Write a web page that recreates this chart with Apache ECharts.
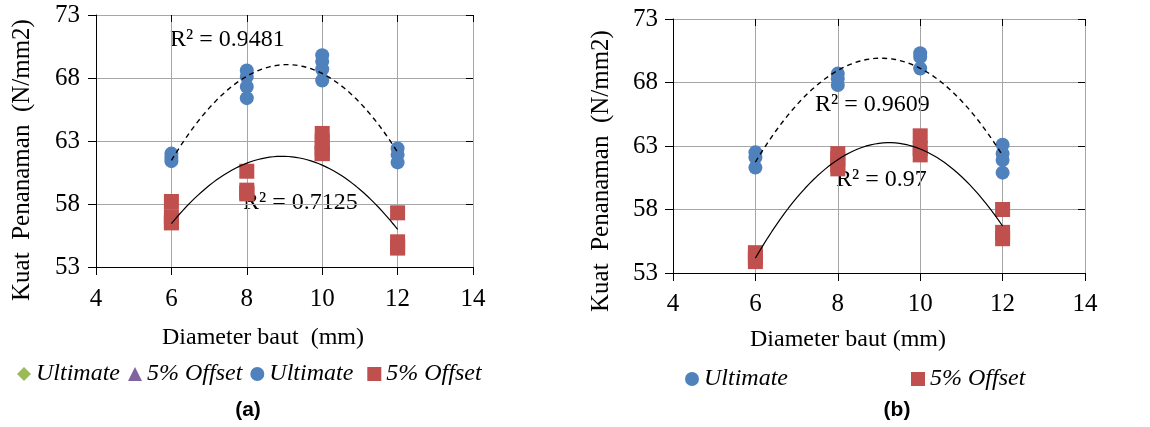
<!DOCTYPE html>
<html><head><meta charset="utf-8">
<script src="https://cdn.jsdelivr.net/npm/echarts@6/dist/echarts.min.js"></script>
<style>html,body{margin:0;padding:0;background:#fff}#c{width:1150px;height:427px}</style>
</head><body><div id="c"></div>
<script>
// ---- data ----
const xMin = 4, xMax = 14, xStep = 2;
const yMin = 53, yMax = 73, yStep = 5;

// Panel (a)
const leftUltimate = [
  [6, 62.0], [6, 61.7], [6, 61.4],
  [8, 68.6], [8, 68.1], [8, 67.3], [8, 66.4],
  [10, 69.8], [10, 69.3], [10, 68.7], [10, 67.8],
  [12, 62.4], [12, 61.9], [12, 61.3]
];
const leftOffset = [
  [6, 58.2], [6, 57.0], [6, 56.6], [6, 56.5],
  [8, 60.6], [8, 59.1], [8, 58.9], [8, 58.8],
  [10, 63.6], [10, 63.0], [10, 62.4], [10, 62.0], [10, 62.0],
  [12, 57.3], [12, 55.0], [12, 54.6], [12, 54.5]
];
// Panel (b)
const rightUltimate = [
  [6, 62.5], [6, 62.1], [6, 61.3],
  [8, 68.7], [8, 68.3], [8, 67.8],
  [10, 70.3], [10, 70.0], [10, 69.1],
  [12, 63.1], [12, 62.4], [12, 61.9], [12, 60.9]
];
const rightOffset = [
  [6, 54.6], [6, 54.2], [6, 53.9],
  [8, 62.4], [8, 62.0], [8, 61.5], [8, 61.2],
  [10, 63.8], [10, 62.8], [10, 62.3],
  [12, 58.0], [12, 56.2], [12, 55.7]
];
const r2Labels = ['R² = 0.9481', 'R² = 0.7125', 'R² = 0.9609', 'R² = 0.97'];

// ---- quadratic trendline (least squares, like the spreadsheet trendline) ----
function fit2(pts) {
  let S = [0,0,0,0,0], T = [0,0,0];
  pts.forEach(([x, y]) => {
    for (let k = 0; k < 5; k++) S[k] += Math.pow(x, k);
    for (let k = 0; k < 3; k++) T[k] += Math.pow(x, k) * y;
  });
  const A = [[S[0],S[1],S[2],T[0]],[S[1],S[2],S[3],T[1]],[S[2],S[3],S[4],T[2]]];
  for (let i = 0; i < 3; i++) {
    for (let j = i + 1; j < 3; j++) {
      const f = A[j][i] / A[i][i];
      for (let k = i; k < 4; k++) A[j][k] -= f * A[i][k];
    }
  }
  const c = [0,0,0];
  for (let i = 2; i >= 0; i--) {
    let s = A[i][3];
    for (let k = i + 1; k < 3; k++) s -= A[i][k] * c[k];
    c[i] = s / A[i][i];
  }
  return c;
}
function trend(pts) {
  const c = fit2(pts);
  const xs = pts.map(p => p[0]);
  const x0 = Math.min(...xs), x1 = Math.max(...xs);
  const out = [];
  for (let i = 0; i <= 60; i++) {
    const x = x0 + (x1 - x0) * i / 60;
    out.push([x, c[0] + c[1] * x + c[2] * x * x]);
  }
  return out;
}

const BLUE = '#4f81bd', RED = '#c0504d', GREEN = '#9bbb59', PURPLE = '#8064a2';
const SERIF = '"Liberation Serif", "Times New Roman", serif';

function xAxes(grid, margin) {
  return [
    { type: 'value', gridIndex: grid, min: xMin, max: xMax, interval: xStep,
      axisLine: { show: true, onZero: false, lineStyle: { color: '#000', width: 1 } },
      axisTick: { show: true, length: 8, lineStyle: { color: '#000' } },
      axisLabel: { fontFamily: SERIF, fontSize: 25, color: '#000', margin: margin },
      splitLine: { show: true, lineStyle: { color: '#a6a6a6', width: 1 } } },
    { type: 'value', gridIndex: grid, min: xMin, max: xMax, interval: xStep,
      axisLine: { show: false }, axisLabel: { show: false }, splitLine: { show: false },
      axisTick: { show: true, inside: true, length: 7, lineStyle: { color: '#000' } } }
  ];
}
function yAxes(grid, margin) {
  return [
    { type: 'value', gridIndex: grid, min: yMin, max: yMax, interval: yStep,
      axisLine: { show: true, onZero: false, lineStyle: { color: '#000', width: 1 } },
      axisTick: { show: true, length: 8, lineStyle: { color: '#000' } },
      axisLabel: { fontFamily: SERIF, fontSize: 25, color: '#000', margin: margin },
      splitLine: { show: true, lineStyle: { color: '#a6a6a6', width: 1 } } },
    { type: 'value', gridIndex: grid, min: yMin, max: yMax, interval: yStep,
      axisLine: { show: false }, axisLabel: { show: false }, splitLine: { show: false },
      axisTick: { show: true, inside: true, length: 7, lineStyle: { color: '#000' } } }
  ];
}
function scatter(name, data, xi, yi, symbol, color, size) {
  return { name, type: 'scatter', xAxisIndex: xi, yAxisIndex: yi, data,
    symbol, symbolSize: size, itemStyle: { color, opacity: 1 }, z: 3, silent: true };
}
function line(data, xi, yi, dashed) {
  return { type: 'line', xAxisIndex: xi, yAxisIndex: yi, data, showSymbol: false,
    symbol: 'none', smooth: false, z: 5, silent: true,
    lineStyle: { color: '#000', width: dashed ? 1.4 : 1.2, type: dashed ? [5, 4] : 'solid' } };
}
function txt(text, x, y, font, align, rot) {
  return { type: 'text', x, y, rotation: rot || 0, silent: true,
    style: { text, font, fill: '#000', textAlign: align || 'center', textVerticalAlign: 'middle' } };
}

const legendText = { fontFamily: SERIF, fontStyle: 'italic', fontSize: 24, color: '#000' };

const option = {
  backgroundColor: '#fff',
  animation: false,
  grid: [
    { left: 96, top: 15, width: 377, height: 252 },
    { left: 673, top: 19, width: 412, height: 254 }
  ],
  xAxis: [...xAxes(0, 20), ...xAxes(1, 19)],
  yAxis: [...yAxes(0, 16), ...yAxes(1, 15)],
  legend: [
    { left: 12, top: 357, itemWidth: 14, itemHeight: 14, itemGap: 8, textStyle: legendText,
      selectedMode: false,
      data: [{ name: 'Ultimate', icon: 'diamond' }, { name: '5% Offset', icon: 'triangle' },
             { name: 'Ultimate ', icon: 'circle' }, { name: '5% Offset ', icon: 'rect' }] },
    { left: 680, top: 362, itemWidth: 14, itemHeight: 14, itemGap: 111, textStyle: legendText,
      selectedMode: false,
      data: [{ name: 'Ultimate  ', icon: 'circle' }, { name: '5% Offset  ', icon: 'rect' }] }
  ],
  series: [
    scatter('Ultimate', [], 0, 0, 'diamond', GREEN, 14),
    scatter('5% Offset', [], 0, 0, 'triangle', PURPLE, 14),
    scatter('Ultimate ', leftUltimate, 0, 0, 'circle', BLUE, 14),
    scatter('5% Offset ', leftOffset, 0, 0, 'rect', RED, 15),
    line(trend(leftUltimate), 0, 0, true),
    line(trend(leftOffset), 0, 0, false),
    scatter('Ultimate  ', rightUltimate, 2, 2, 'circle', BLUE, 14),
    scatter('5% Offset  ', rightOffset, 2, 2, 'rect', RED, 15),
    line(trend(rightUltimate), 2, 2, true),
    line(trend(rightOffset), 2, 2, false)
  ],
  graphic: [
    txt('Kuat  Penanaman  (N/mm2)', 22, 160, '25px ' + SERIF, 'center', Math.PI / 2),
    txt('Kuat  Penanaman  (N/mm2)', 601, 171, '25px ' + SERIF, 'center', Math.PI / 2),
    txt('Diameter baut  (mm)', 263, 338, '24px ' + SERIF),
    txt('Diameter baut (mm)', 848, 340, '24px ' + SERIF),
    txt(r2Labels[0], 170, 40, '24px ' + SERIF, 'left'),
    txt(r2Labels[1], 243, 203, '24px ' + SERIF, 'left'),
    txt(r2Labels[2], 815, 105, '24px ' + SERIF, 'left'),
    txt(r2Labels[3], 836, 180, '24px ' + SERIF, 'left'),
    txt('(a)', 248, 410, 'bold 21px "Liberation Sans", Arial, sans-serif'),
    txt('(b)', 897, 410, 'bold 21px "Liberation Sans", Arial, sans-serif')
  ]
};
const chart = echarts.init(document.getElementById('c'), null, { renderer: 'canvas' });
chart.setOption(option);
</script>
</body></html>
